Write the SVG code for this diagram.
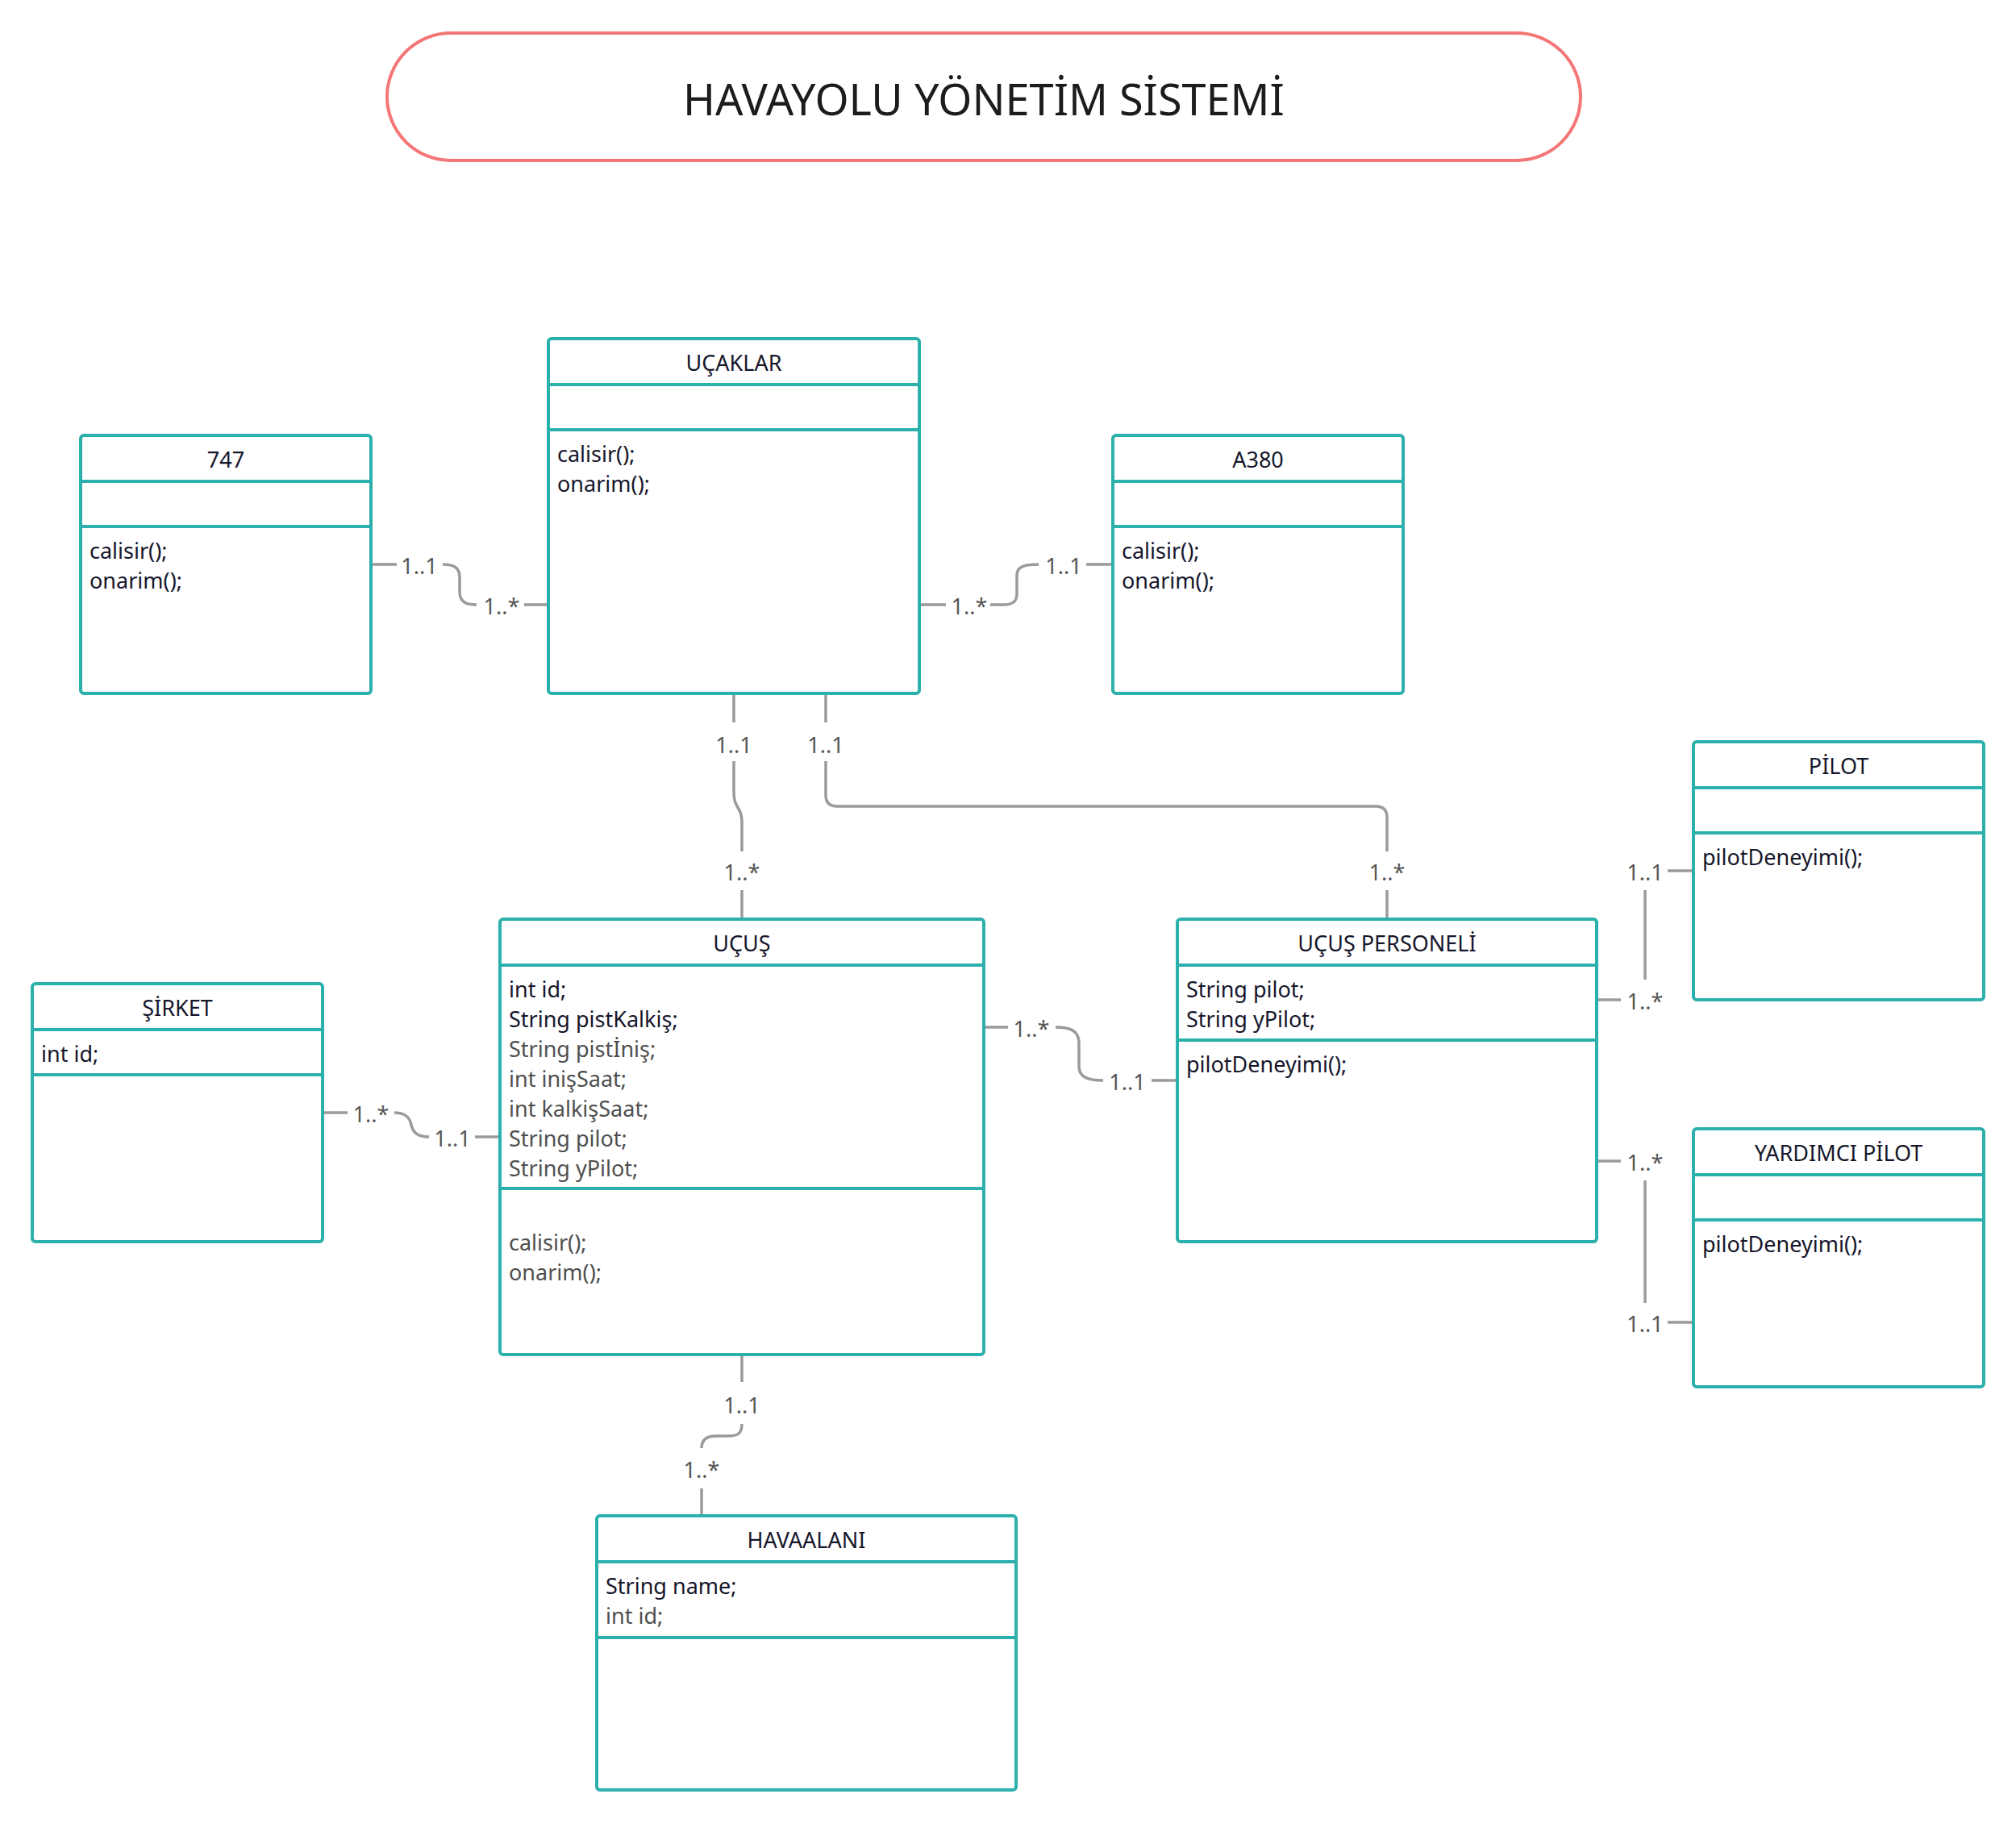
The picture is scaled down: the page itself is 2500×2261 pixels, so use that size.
<svg xmlns="http://www.w3.org/2000/svg" width="2500" height="2261" viewBox="0 0 2500 2261">
<style>
.bg{fill:#ffffff}
.box{fill:#ffffff;stroke:#2BB0AC;stroke-width:4}
.sep{stroke:#2BB0AC;stroke-width:4}
.hdr{font-family:"Noto Sans","Open Sans",sans-serif;font-size:27px;fill:#16162b;text-anchor:middle}
.txt{font-family:"Noto Sans","Open Sans",sans-serif;font-size:27px;fill:#16162b}
.muted{fill:#4f4f4f}
.conn{fill:none;stroke:#9a9a9a;stroke-width:3.5}
.lbl{font-family:"Noto Sans","Open Sans",sans-serif;font-size:27px;fill:#555555;text-anchor:middle}
.pill{fill:#ffffff;stroke:#F47676;stroke-width:4}
.title{font-family:"Noto Sans","Open Sans",sans-serif;font-size:54px;fill:#1c1c1c;text-anchor:middle}
</style>
<rect class="bg" x="0" y="0" width="2500" height="2261"/>

<g id="title">
<rect class="pill" x="480" y="41" width="1480" height="158" rx="79"/>
<text class="title" x="1220" y="143">HAVAYOLU YÖNETİM SİSTEMİ</text>
</g>

<g id="connectors">
<path class="conn" d="M460,700 H492 M549,700 C563,700 570,704 570,716 V734 C570,746 577,750 591,750 M650,750 H680"/>
<path class="conn" d="M1140,750 H1173 M1228,750 H1244 C1256,750 1261,746 1261,736 V714 C1261,704 1267,700 1288,700 M1347,700 H1380"/>
<path class="conn" d="M910,860 V896 M910,944 V983 C910,1003 920,1000 920,1020 V1056 M920,1104 V1140"/>
<path class="conn" d="M1024,860 V896 M1024,944 V986 Q1024,1000 1038,1000 H1706 Q1720,1000 1720,1014 V1056 M1720,1104 V1140"/>
<path class="conn" d="M400,1380 H431 M489,1380 C503,1380 508,1386 510,1395 C512,1404 517,1410 532,1410 M589,1410 H620"/>
<path class="conn" d="M1220,1274 H1250 M1309,1274 C1330,1274 1338,1280 1338,1294 V1322 C1338,1334 1345,1340 1368,1340 M1428,1340 H1460"/>
<path class="conn" d="M1980,1240 H2010 M2040,1215 V1104 M2068,1080 H2100"/>
<path class="conn" d="M1980,1440 H2010 M2040,1464 V1616 M2068,1640 H2100"/>
<path class="conn" d="M920,1680 V1714 M920,1766 C920,1778 915,1781 903,1781 H888 C876,1781 870,1786 870,1796 M870,1846 V1880"/>
<text class="lbl" x="520" y="711.5">1..1</text>
<text class="lbl" x="622" y="761.5">1..*</text>
<text class="lbl" x="1202" y="761.5">1..*</text>
<text class="lbl" x="1319" y="711.5">1..1</text>
<text class="lbl" x="910" y="933.5">1..1</text>
<text class="lbl" x="920" y="1091.5">1..*</text>
<text class="lbl" x="1024" y="933.5">1..1</text>
<text class="lbl" x="1720" y="1091.5">1..*</text>
<text class="lbl" x="460" y="1391.5">1..*</text>
<text class="lbl" x="561" y="1421.5">1..1</text>
<text class="lbl" x="1279" y="1285.5">1..*</text>
<text class="lbl" x="1398" y="1351.5">1..1</text>
<text class="lbl" x="2040" y="1251.5">1..*</text>
<text class="lbl" x="2040" y="1091.5">1..1</text>
<text class="lbl" x="2040" y="1451.5">1..*</text>
<text class="lbl" x="2040" y="1651.5">1..1</text>
<text class="lbl" x="920" y="1752.5">1..1</text>
<text class="lbl" x="870" y="1832.5">1..*</text>
</g>

<g id="ucaklar">
<rect class="box" x="680" y="420" width="460" height="440" rx="4"/>
<line class="sep" x1="680" y1="477" x2="1140" y2="477"/>
<line class="sep" x1="680" y1="533" x2="1140" y2="533"/>
<text class="hdr" x="910" y="459.5">UÇAKLAR</text>
<text class="txt" x="691" y="572.5">calisir();</text>
<text class="txt" x="691" y="609.5">onarim();</text>
</g>

<g id="b747">
<rect class="box" x="100" y="540" width="360" height="320" rx="4"/>
<line class="sep" x1="100" y1="597" x2="460" y2="597"/>
<line class="sep" x1="100" y1="653" x2="460" y2="653"/>
<text class="hdr" x="280" y="579.5">747</text>
<text class="txt" x="111" y="692.5">calisir();</text>
<text class="txt" x="111" y="729.5">onarim();</text>
</g>

<g id="a380">
<rect class="box" x="1380" y="540" width="360" height="320" rx="4"/>
<line class="sep" x1="1380" y1="597" x2="1740" y2="597"/>
<line class="sep" x1="1380" y1="653" x2="1740" y2="653"/>
<text class="hdr" x="1560" y="579.5">A380</text>
<text class="txt" x="1391" y="692.5">calisir();</text>
<text class="txt" x="1391" y="729.5">onarim();</text>
</g>

<g id="sirket">
<rect class="box" x="40" y="1220" width="360" height="320" rx="4"/>
<line class="sep" x1="40" y1="1277" x2="400" y2="1277"/>
<line class="sep" x1="40" y1="1333" x2="400" y2="1333"/>
<text class="hdr" x="220" y="1259.5">ŞİRKET</text>
<text class="txt" x="51" y="1316.5">int id;</text>
</g>

<g id="ucus">
<rect class="box" x="620" y="1140" width="600" height="540" rx="4"/>
<line class="sep" x1="620" y1="1197" x2="1220" y2="1197"/>
<line class="sep" x1="620" y1="1474" x2="1220" y2="1474"/>
<text class="hdr" x="920" y="1179.5">UÇUŞ</text>
<text class="txt" x="631" y="1236.5">int id;</text>
<text class="txt" x="631" y="1273.5">String pistKalkiş;</text>
<text class="txt muted" x="631" y="1310.5">String pistİniş;</text>
<text class="txt muted" x="631" y="1347.5">int inişSaat;</text>
<text class="txt muted" x="631" y="1384.5">int kalkişSaat;</text>
<text class="txt muted" x="631" y="1421.5">String pilot;</text>
<text class="txt muted" x="631" y="1458.5">String yPilot;</text>
<text class="txt muted" x="631" y="1550.5">calisir();</text>
<text class="txt muted" x="631" y="1587.5">onarim();</text>
</g>

<g id="ucus-personeli">
<rect class="box" x="1460" y="1140" width="520" height="400" rx="4"/>
<line class="sep" x1="1460" y1="1197" x2="1980" y2="1197"/>
<line class="sep" x1="1460" y1="1290" x2="1980" y2="1290"/>
<text class="hdr" x="1720" y="1179.5">UÇUŞ PERSONELİ</text>
<text class="txt" x="1471" y="1236.5">String pilot;</text>
<text class="txt" x="1471" y="1273.5">String yPilot;</text>
<text class="txt" x="1471" y="1329.5">pilotDeneyimi();</text>
</g>

<g id="pilot">
<rect class="box" x="2100" y="920" width="360" height="320" rx="4"/>
<line class="sep" x1="2100" y1="977" x2="2460" y2="977"/>
<line class="sep" x1="2100" y1="1033" x2="2460" y2="1033"/>
<text class="hdr" x="2280" y="959.5">PİLOT</text>
<text class="txt" x="2111" y="1072.5">pilotDeneyimi();</text>
</g>

<g id="yardimci-pilot">
<rect class="box" x="2100" y="1400" width="360" height="320" rx="4"/>
<line class="sep" x1="2100" y1="1457" x2="2460" y2="1457"/>
<line class="sep" x1="2100" y1="1513" x2="2460" y2="1513"/>
<text class="hdr" x="2280" y="1439.5">YARDIMCI PİLOT</text>
<text class="txt" x="2111" y="1552.5">pilotDeneyimi();</text>
</g>

<g id="havaalani">
<rect class="box" x="740" y="1880" width="520" height="340" rx="4"/>
<line class="sep" x1="740" y1="1937" x2="1260" y2="1937"/>
<line class="sep" x1="740" y1="2031" x2="1260" y2="2031"/>
<text class="hdr" x="1000" y="1919.5">HAVAALANI</text>
<text class="txt" x="751" y="1976.5">String name;</text>
<text class="txt muted" x="751" y="2013.5">int id;</text>
</g>
</svg>
